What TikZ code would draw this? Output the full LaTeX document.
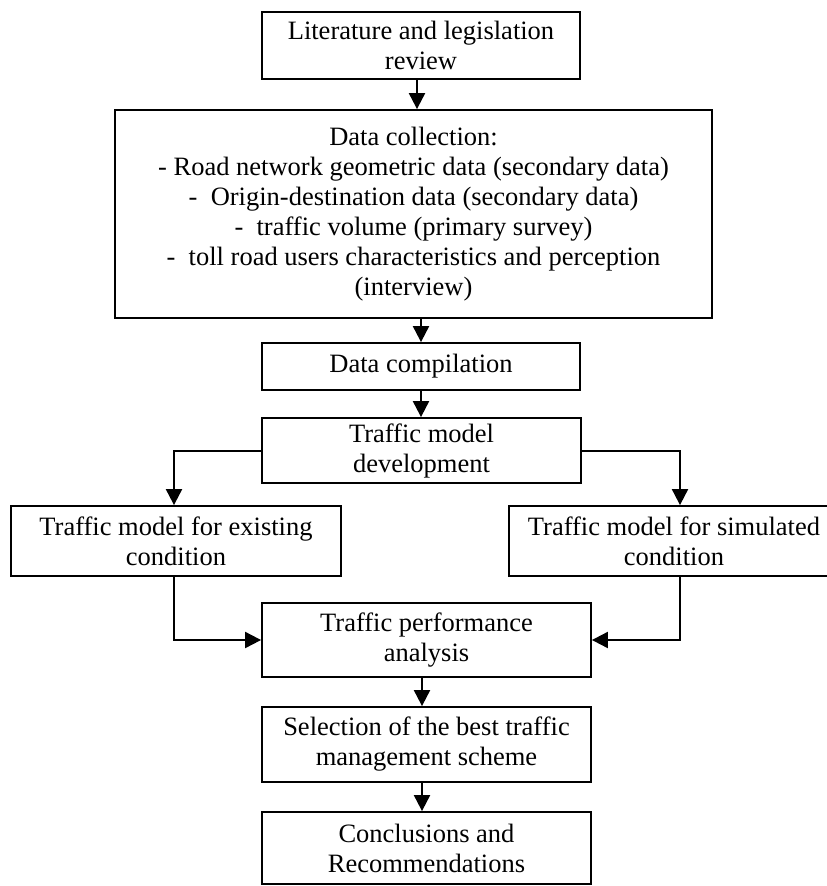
\documentclass[tikz,border=0pt]{standalone}
\usepackage{fontspec}
\setmainfont{Liberation Serif}
\usetikzlibrary{arrows.meta}
\begin{document}
\begin{tikzpicture}[x=1pt,y=-1pt,
  box/.style={draw, line width=1.8pt, inner sep=0pt, align=center,
    font=\fontsize{26.5}{30}\selectfont},
  arr/.style={line width=2pt, -{Triangle[length=16pt,width=16pt]}}]
\clip (0,0) rectangle (827,886);
\node[box, minimum width=318pt, minimum height=67pt] (b1) at (421,45.5)
  {Literature and legislation\\review};
\node[box, minimum width=597pt, minimum height=208pt] (b2) at (413.5,214)
  {Data collection:\\
   - Road network geometric data (secondary data)\\
   -\ \ Origin-destination data (secondary data)\\
   -\ \ traffic volume (primary survey)\\
   -\ \ toll road users characteristics and perception\\
   (interview)};
\node[box, minimum width=318pt, minimum height=47pt] (b3) at (421,366.5)
  {Data compilation};
\node[box, minimum width=319pt, minimum height=65pt] (b4) at (421.5,450.5)
  {Traffic model\\development};
\node[box, minimum width=330pt, minimum height=70pt] (b5) at (176,541)
  {Traffic model for existing\\condition};
\node[box, minimum width=330pt, minimum height=70pt] (b6) at (674,541)
  {Traffic model for simulated\\condition};
\node[box, minimum width=329pt, minimum height=74pt] (b7) at (426.5,640)
  {Traffic performance\\analysis};
\node[box, minimum width=329pt, minimum height=75pt] (b8) at (426.5,744.5)
  {Selection of the best traffic\\management scheme};
\node[box, minimum width=329pt, minimum height=72pt] (b9) at (426.5,848)
  {Conclusions and\\Recommendations};
\coordinate (a1) at ([xshift=-4pt]b1.south);
\draw[arr] (a1) -- (a1 |- b2.north);
\draw[arr] (b3.north |- b2.south) -- (b3.north);
\draw[arr] (b3.south) -- (b3.south |- b4.north);
\draw[arr] (b4.west) -| ([xshift=-2pt]b5.north);
\draw[arr] (b4.east) -| ([xshift=6pt]b6.north);
\draw[arr] ([xshift=-2pt]b5.south) |- (b7.west);
\draw[arr] ([xshift=6pt]b6.south) |- (b7.east);
\coordinate (a7) at ([xshift=-4.5pt]b7.south);
\draw[arr] (a7) -- (a7 |- b8.north);
\coordinate (a8) at ([xshift=-4.5pt]b8.south);
\draw[arr] (a8) -- (a8 |- b9.north);
\end{tikzpicture}
\end{document}
